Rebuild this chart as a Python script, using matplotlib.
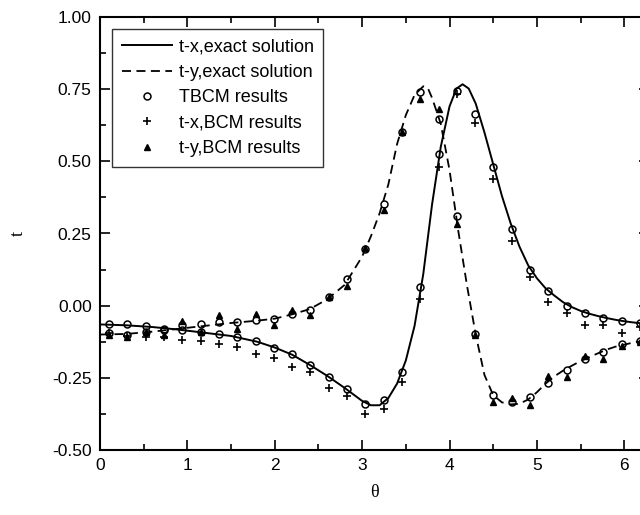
import numpy as np
import matplotlib
matplotlib.use('Agg')
import matplotlib.pyplot as plt
from matplotlib.ticker import MultipleLocator

# exact solution curves (theta, value)
tx_theta = [0.0, 0.3, 0.6, 0.9, 1.2, 1.5, 1.8, 2.0, 2.2, 2.4, 2.6, 2.8, 3.0, 3.1, 3.2, 3.3,
            3.4, 3.5, 3.6, 3.7, 3.8, 3.9, 4.0, 4.08, 4.15, 4.22, 4.3, 4.4, 4.5, 4.6, 4.7,
            4.8, 4.9, 5.0, 5.1, 5.2, 5.3, 5.4, 5.5, 5.6, 5.7, 5.8, 5.9, 6.0, 6.1, 6.283]
tx_exact = [-0.065, -0.068, -0.074, -0.083, -0.094, -0.105, -0.125, -0.145, -0.170, -0.205,
            -0.243, -0.285, -0.330, -0.345, -0.345, -0.320, -0.270, -0.190, -0.070, 0.110,
            0.350, 0.550, 0.690, 0.752, 0.767, 0.752, 0.700, 0.600, 0.490, 0.380, 0.285,
            0.205, 0.140, 0.095, 0.060, 0.035, 0.012, -0.005, -0.018, -0.028, -0.036,
            -0.043, -0.049, -0.054, -0.058, -0.064]

ty_theta = [0.0, 0.3, 0.6, 0.9, 1.2, 1.5, 1.8, 2.0, 2.2, 2.4, 2.6, 2.8, 3.0, 3.1, 3.2, 3.3,
            3.4, 3.5, 3.6, 3.7, 3.75, 3.8, 3.9, 4.0, 4.1, 4.2, 4.3, 4.4, 4.5, 4.6, 4.7,
            4.8, 4.9, 5.0, 5.1, 5.2, 5.3, 5.4, 5.5, 5.6, 5.7, 5.8, 5.9, 6.0, 6.1, 6.283]
ty_exact = [-0.100, -0.098, -0.090, -0.080, -0.070, -0.060, -0.052, -0.045, -0.030, -0.012,
            0.022, 0.072, 0.170, 0.240, 0.320, 0.420, 0.560, 0.660, 0.730, 0.760, 0.755,
            0.720, 0.630, 0.470, 0.260, 0.070, -0.100, -0.240, -0.310, -0.335, -0.342,
            -0.340, -0.325, -0.300, -0.270, -0.245, -0.225, -0.208, -0.192, -0.178, -0.165,
            -0.152, -0.142, -0.135, -0.128, -0.118]

# boundary element nodes
theta_nodes = [0.105, 0.314, 0.524, 0.733, 0.942, 1.152, 1.361, 1.571, 1.780, 1.990,
               2.199, 2.408, 2.618, 2.827, 3.037, 3.246, 3.456, 3.665, 3.875, 4.084,
               4.294, 4.503, 4.712, 4.922, 5.131, 5.341, 5.550, 5.760, 5.969, 6.178]

tx_tbcm = [-0.062, -0.063, -0.072, -0.080, -0.085, -0.090, -0.098, -0.108, -0.123, -0.148,
           -0.169, -0.207, -0.246, -0.290, -0.341, -0.328, -0.229, 0.065, 0.524, 0.745,
           0.665, 0.479, 0.264, 0.123, 0.052, -0.002, -0.024, -0.042, -0.052, -0.061]
ty_tbcm = [-0.095, -0.100, -0.090, -0.085, -0.068, -0.064, -0.057, -0.055, -0.049, -0.045,
           -0.028, -0.014, 0.029, 0.093, 0.196, 0.353, 0.600, 0.740, 0.645, 0.310,
           -0.098, -0.310, -0.335, -0.318, -0.268, -0.224, -0.185, -0.161, -0.132, -0.122]
tx_bcm = [-0.095, -0.105, -0.107, -0.110, -0.120, -0.123, -0.134, -0.144, -0.167, -0.180,
          -0.213, -0.230, -0.286, -0.314, -0.376, -0.359, -0.265, 0.024, 0.480, 0.734,
          0.632, 0.440, 0.225, 0.100, 0.011, -0.025, -0.067, -0.067, -0.094, -0.075]
ty_bcm = [-0.100, -0.110, -0.090, -0.100, -0.052, -0.090, -0.034, -0.082, -0.029, -0.068,
          -0.014, -0.034, 0.030, 0.069, 0.200, 0.330, 0.600, 0.715, 0.680, 0.282,
          -0.100, -0.333, -0.320, -0.345, -0.245, -0.248, -0.176, -0.184, -0.141, -0.125]

plt.rcParams['font.family'] = ['Liberation Sans', 'DejaVu Sans']

fig = plt.figure(figsize=(6.4, 5.15), dpi=100)
ax = fig.add_axes([100 / 640, 65 / 515, 549 / 640, 433 / 515])

ax.plot(tx_theta, tx_exact, color='black', lw=1.4, label='t-x,exact solution')
ax.plot(ty_theta, ty_exact, color='black', lw=1.3, dashes=(5, 3), label='t-y,exact solution')
ax.plot(theta_nodes, tx_tbcm, 'o', ms=5, mfc='none', mec='black', mew=1.1,
        label='TBCM results')
ax.plot(theta_nodes, ty_tbcm, 'o', ms=5, mfc='none', mec='black', mew=1.1)
ax.plot(theta_nodes, tx_bcm, '+', ms=6, color='black', mew=1.2, label='t-x,BCM results')
ax.plot(theta_nodes, ty_bcm, '^', ms=5, color='black', label='t-y,BCM results')

ax.set_xlim(0, 2 * np.pi)
ax.set_ylim(-0.5, 1.0)
ax.xaxis.set_major_locator(MultipleLocator(1))
ax.xaxis.set_minor_locator(MultipleLocator(0.5))
ax.yaxis.set_major_locator(MultipleLocator(0.25))
ax.yaxis.set_minor_locator(MultipleLocator(0.125))
ax.yaxis.set_major_formatter(matplotlib.ticker.FormatStrFormatter('%.2f'))
ax.tick_params(which='both', direction='in', top=True, right=True, labelsize=12.5, width=1.2)
ax.tick_params(which='major', length=7, pad=6)
ax.tick_params(which='minor', length=4)
for s in ax.spines.values():
    s.set_linewidth(1.5)

ax.set_xlabel('θ', family='Liberation Serif', fontsize=13, labelpad=8)
ax.set_ylabel('t', family='Liberation Serif', fontsize=13, labelpad=18)

leg = ax.legend(loc='upper left', fontsize=13, handlelength=2.8, handletextpad=0.35,
                labelspacing=0.46, borderaxespad=0.65, fancybox=False, frameon=True,
                borderpad=0.55)
leg.get_frame().set_edgecolor('black')
leg.get_frame().set_linewidth(1.0)

fig.savefig('out.png', dpi=100)
